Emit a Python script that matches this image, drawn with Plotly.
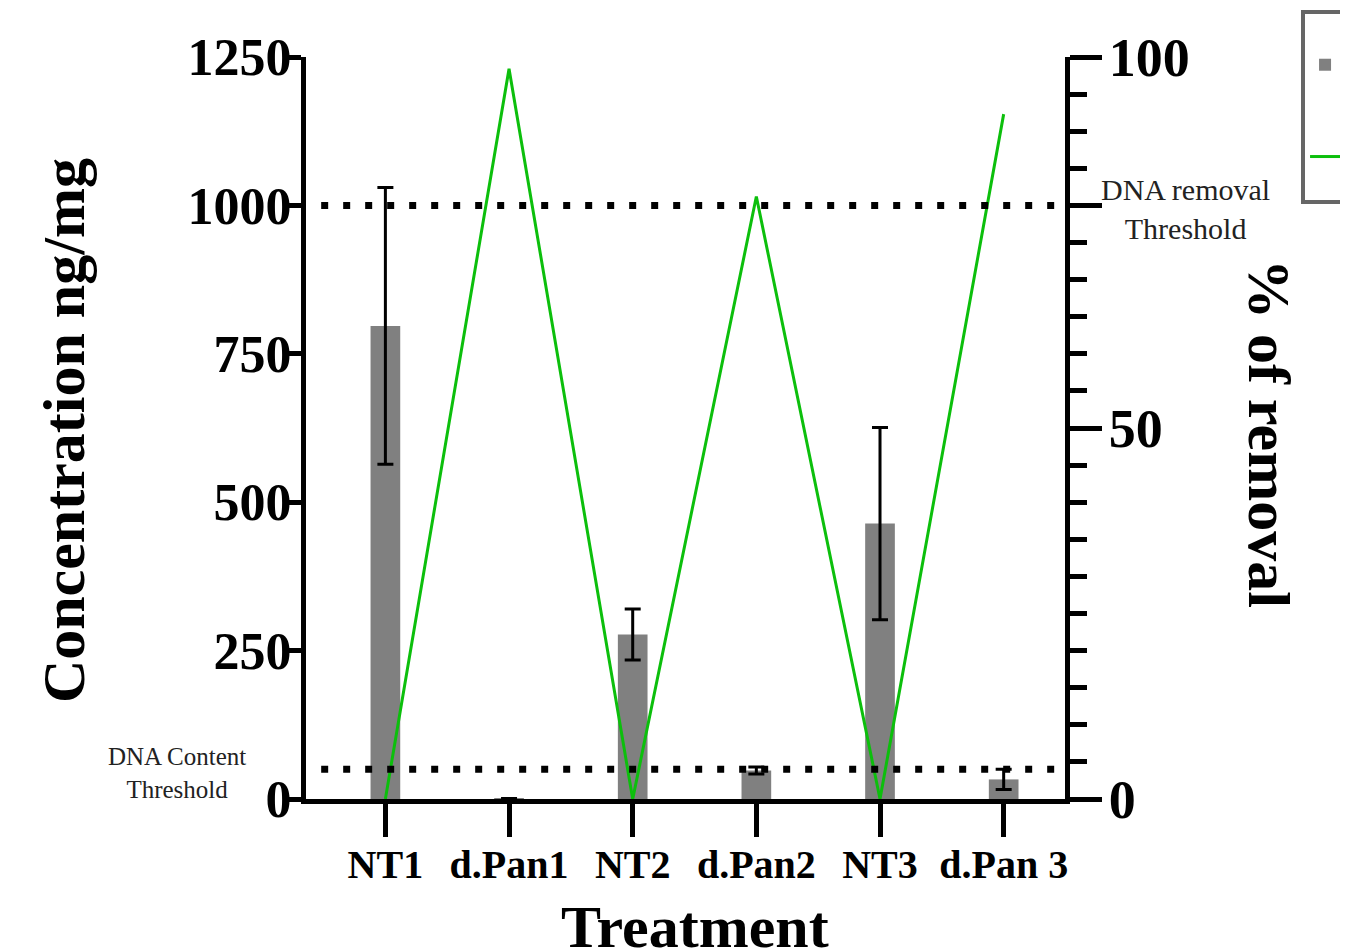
import plotly.graph_objects as go

categories = ["NT1", "d.Pan1", "NT2", "d.Pan2", "NT3", "d.Pan 3"]
concentration = [797, 1, 277, 48, 464, 33]
concentration_err = [233, 0, 43, 6, 162, 17]
removal_pct = [0, 98.4, 0, 81.2, 0, 92.3]
content_threshold = 50
removal_threshold = 1000
left_ticks = [0, 250, 500, 750, 1000, 1250]
right_ticks = [0, 50, 80, 100]
right_ticktext = ["0", "50", "", "100"]

FONT = "Liberation Serif"

fig = go.Figure()
fig.add_trace(go.Bar(
    x=categories, y=concentration, name="Concentration ng/mg",
    marker=dict(color="#808080", line=dict(width=0)), width=0.24,
    error_y=dict(type="data", array=concentration_err, visible=True,
                 color="black", thickness=3, width=8),
    legendgroup="a",
))
fig.add_trace(go.Scatter(
    x=categories, y=removal_pct, name="% of removal", mode="lines",
    line=dict(color="#0cbf0c", width=3), yaxis="y2", legendgroup="b",
))

for yv in (content_threshold, removal_threshold):
    fig.add_shape(type="line", xref="paper", x0=0.02, x1=1.0, yref="y", y0=yv, y1=yv,
                  line=dict(color="black", width=7, dash="7px,15px"), layer="above")

axis_line = dict(showline=True, linecolor="black", linewidth=5, ticks="outside",
                 tickcolor="black", tickwidth=5, showgrid=False, zeroline=False)

# page body adds 8px offset; figure is sized to compensate
fig.update_layout(
    width=1340, height=944,
    margin=dict(l=297.5, r=282.5, t=49, b=153, autoexpand=False),
    plot_bgcolor="white", paper_bgcolor="white",
    font=dict(family=FONT, color="black"),
    xaxis=dict(**axis_line, ticklen=33, range=[-0.642, 5.496], ticklabelstandoff=-7,
               tickfont=dict(family=FONT, size=40, weight="bold")),
    yaxis=dict(**axis_line, ticklen=16, range=[0, 1250], tickvals=left_ticks,
               ticklabelstandoff=-17,
               tickfont=dict(family=FONT, size=52, weight="bold")),
    yaxis2=dict(**axis_line, ticklen=32, overlaying="y", side="right", range=[0, 100],
                tickvals=right_ticks, ticktext=right_ticktext, ticklabelstandoff=-4,
                minor=dict(ticks="outside", dtick=5, ticklen=17, tickwidth=5, tickcolor="black"),
                tickfont=dict(family=FONT, size=54, weight="bold")),
    showlegend=True,
    legend=dict(x=1.311, y=1.0633, xanchor="left", yanchor="top",
                bordercolor="#666666", borderwidth=4, bgcolor="white",
                title=dict(text=" ", font=dict(size=6)),
                font=dict(family=FONT, size=56), tracegroupgap=16, traceorder="grouped"),
)

ann = dict(xref="paper", yref="paper", showarrow=False, xanchor="center", yanchor="middle")
fig.add_annotation(text="<b>Concentration ng/mg</b>", x=-0.319, y=0.497, textangle=-90,
                   font=dict(family=FONT, size=60, color="black"), **ann)
fig.add_annotation(text="<b>Treatment</b>", x=0.513, y=-0.1725,
                   font=dict(family=FONT, size=60, color="black"), **ann)
fig.add_annotation(text="<b>% of removal</b>", x=1.269, y=0.493, textangle=90,
                   font=dict(family=FONT, size=60, color="black"), **ann)
fig.add_annotation(text="DNA Content<br>Threshold", x=-0.170, y=0.035,
                   font=dict(family=FONT, size=25, color="#222222"), **ann)
fig.add_annotation(text="DNA removal<br>Threshold", x=1.159, y=0.795,
                   font=dict(family=FONT, size=30, color="#222222"), **ann)

fig.write_html("out.html")
